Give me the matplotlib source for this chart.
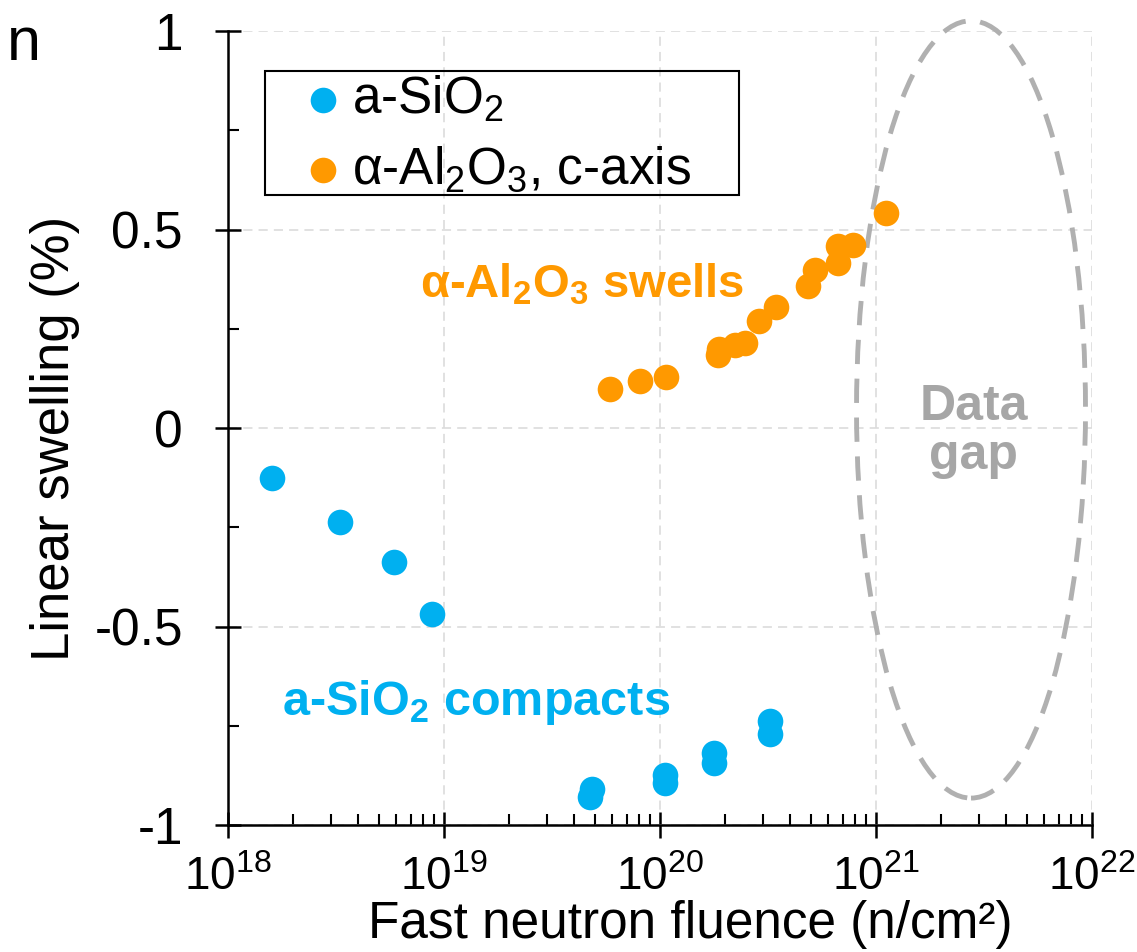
import numpy as np
import matplotlib
matplotlib.use('Agg')
from matplotlib import pyplot as plt
from matplotlib.patches import Ellipse, Rectangle
from matplotlib.ticker import LogLocator, FixedLocator, AutoMinorLocator

plt.rcParams['font.family'] = ['Liberation Sans', 'DejaVu Sans']
plt.rcParams['mathtext.fontset'] = 'custom'
plt.rcParams['mathtext.rm'] = 'Liberation Sans'
plt.rcParams['mathtext.bf'] = 'Liberation Sans:bold'
plt.rcParams['mathtext.default'] = 'regular'
plt.rcParams['axes.unicode_minus'] = False

# data
sio2_fluence = [1.6e18, 3.3e18, 5.9e18, 8.8e18, 4.75e19, 4.83e19, 1.06e20, 1.06e20,
                1.78e20, 1.78e20, 3.23e20, 3.23e20]
sio2_swelling = [-0.127, -0.237, -0.337, -0.468, -0.930, -0.909, -0.894, -0.874,
                 -0.843, -0.818, -0.772, -0.739]

al2o3_fluence = [5.87e19, 8.07e19, 1.07e20, 1.85e20, 1.87e20, 2.22e20, 2.48e20, 2.88e20,
                 3.44e20, 4.83e20, 5.22e20, 6.65e20, 6.65e20, 7.85e20, 1.11e21]
al2o3_swelling = [0.099, 0.118, 0.128, 0.183, 0.198, 0.208, 0.215, 0.269,
                  0.306, 0.359, 0.397, 0.416, 0.458, 0.460, 0.542]

yticks = [-1, -0.5, 0, 0.5, 1]
ytick_labels = ['-1', '-0.5', '0', '0.5', '1']

BLUE = '#00b0f0'
ORANGE = '#ff9900'
GAP = '#b0b0b0'

fig = plt.figure(figsize=(11.37, 9.52), dpi=100)
ax = fig.add_axes([0.2005, 0.1334, 0.7599, 0.834])

ax.scatter(sio2_fluence, sio2_swelling, s=340, color=BLUE, linewidths=0,
           label='a-SiO$_2$', zorder=4)
ax.scatter(al2o3_fluence, al2o3_swelling, s=340, color=ORANGE, linewidths=0,
           label='α-Al$_2$O$_3$, c-axis', zorder=4)

ax.set_xscale('log')
ax.set_xlim(1e18, 1e22)
ax.set_ylim(-1, 1)
ax.xaxis.set_major_locator(LogLocator(base=10, numticks=10))
ax.xaxis.set_minor_locator(LogLocator(base=10, subs=np.arange(2, 10), numticks=50))
ax.yaxis.set_major_locator(FixedLocator(yticks))
ax.set_yticklabels(ytick_labels)
ax.yaxis.set_minor_locator(AutoMinorLocator(2))

for s in ['top', 'right']:
    ax.spines[s].set_visible(False)
for s in ['left', 'bottom']:
    ax.spines[s].set_linewidth(1.8)

ax.tick_params(which='major', direction='inout', length=19, width=1.8,
               labelsize=37, pad=23)
ax.tick_params(axis='x', which='major', pad=13, labelsize=33)
ax.tick_params(which='minor', direction='in', length=8, width=1.5)

ax.grid(True, which='major', color='#d9d9d9', linestyle=(0, (6, 4)), linewidth=1.1, zorder=0)
ax.set_axisbelow(True)

ax.set_xlabel('Fast neutron fluence (n/cm²)', fontsize=37)
ax.xaxis.set_label_coords(0.535, -0.094)
ax.set_ylabel('Linear swelling (%)', fontsize=38)
ax.yaxis.set_label_coords(-0.171, 0.487)

# dashed "data gap" ellipse, in axes coordinates
gap = Ellipse((0.860, 0.5234), 0.265, 0.979, transform=ax.transAxes, fill=False,
              edgecolor=GAP, linewidth=3.5, linestyle=(0, (5, 3)), clip_on=False, zorder=3)
ax.add_patch(gap)

ax.text(4.34e19, 0.329, r'α-Al$\mathbf{_2}$O$\mathbf{_3}$ swells', color=ORANGE,
        fontsize=34, fontweight='bold', ha='center', va='baseline')
ax.text(1.41e19, -0.724, r'a-SiO$\mathbf{_2}$ compacts', color=BLUE,
        fontsize=35, fontweight='bold', ha='center', va='baseline')
ax.text(2.84e21, 0.019, 'Data', color='#a6a6a6', fontsize=36, fontweight='bold',
        ha='center', va='baseline')
ax.text(2.84e21, -0.102, 'gap', color='#a6a6a6', fontsize=36, fontweight='bold',
        ha='center', va='baseline')

# legend without its own frame, box drawn separately
leg = ax.legend(loc='upper left', bbox_to_anchor=(0.0804, 0.946), fontsize=37,
                frameon=False, handlelength=1.0, handletextpad=0.07, borderpad=0,
                labelspacing=0.4, borderaxespad=0)
box = Rectangle((0.0428, 0.7935), 0.5486, 0.1564, transform=ax.transAxes, fill=False,
                edgecolor='black', linewidth=1.5, zorder=5)
ax.add_patch(box)

fig.text(7 / 1137, 1 - 60 / 952, 'n', fontsize=44, ha='left', va='baseline')

fig.savefig('out.png', dpi=100)
